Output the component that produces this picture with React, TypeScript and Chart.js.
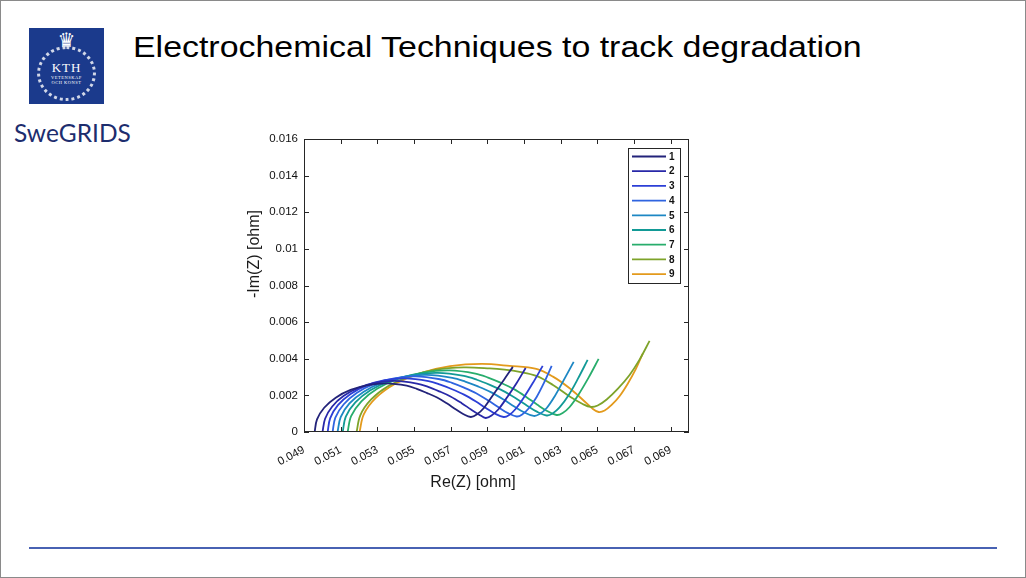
import React, { useEffect, useRef } from "react";
import { Chart, registerables } from "chart.js";

Chart.register(...registerables);

// Nyquist curves, Re(Z) / -Im(Z) in ohm, one pair per measurement
const seriesLabels = ["1", "2", "3", "4", "5", "6", "7", "8", "9"];
const seriesColors = [
  "#23237a",
  "#2828a8",
  "#2c3fd6",
  "#2f64e0",
  "#1d87c4",
  "#129a96",
  "#28ad6c",
  "#7ea32a",
  "#e39a1c"
];

const re1 = [0.04958, 0.04971, 0.0501, 0.05073, 0.05154, 0.05249, 0.05351, 0.0546, 0.05515, 0.05569, 0.05626, 0.05681, 0.05727, 0.05768, 0.0581, 0.05842, 0.05881, 0.05935, 0.0599, 0.06039];
const im1 = [0, 0.000689, 0.001323, 0.001876, 0.002297, 0.00256, 0.002653, 0.002527, 0.002358, 0.002139, 0.001882, 0.001553, 0.001242, 0.000985, 0.00082, 0.000957, 0.001313, 0.002079, 0.002844, 0.003556];

const re2 = [0.05001, 0.05015, 0.05054, 0.05117, 0.05198, 0.05293, 0.05394, 0.05516, 0.05577, 0.05638, 0.05699, 0.0576, 0.05811, 0.05856, 0.05891, 0.05923, 0.05962, 0.06011, 0.0606, 0.06109];
const im2 = [0, 0.000722, 0.001394, 0.001974, 0.002417, 0.002695, 0.002788, 0.002646, 0.002466, 0.00222, 0.001941, 0.001575, 0.00123, 0.000946, 0.000765, 0.000902, 0.001258, 0.001941, 0.002679, 0.003499];

const re3 = [0.05029, 0.05043, 0.05085, 0.05152, 0.05239, 0.0534, 0.05449, 0.05579, 0.05643, 0.05708, 0.05773, 0.05838, 0.05892, 0.0594, 0.05989, 0.06019, 0.06054, 0.06101, 0.0615, 0.06202];
const im3 = [0, 0.00076, 0.001465, 0.002067, 0.002531, 0.002827, 0.002925, 0.002777, 0.002586, 0.002335, 0.002039, 0.001662, 0.001307, 0.001011, 0.00082, 0.000929, 0.001258, 0.001914, 0.002706, 0.003609];

const re4 = [0.05056, 0.05071, 0.05117, 0.05189, 0.05282, 0.05392, 0.05509, 0.05641, 0.05707, 0.05773, 0.05839, 0.05905, 0.05961, 0.0601, 0.0606, 0.0609, 0.06125, 0.06169, 0.0621, 0.06251];
const im4 = [0, 0.000787, 0.001514, 0.002143, 0.00263, 0.002931, 0.003034, 0.002881, 0.002685, 0.002422, 0.002116, 0.001722, 0.00135, 0.001044, 0.000847, 0.000957, 0.001285, 0.001914, 0.002706, 0.003609];

const re5 = [0.05083, 0.051, 0.05148, 0.05226, 0.05326, 0.05443, 0.05569, 0.05709, 0.05779, 0.05849, 0.05919, 0.05989, 0.06047, 0.061, 0.06153, 0.06185, 0.06224, 0.06267, 0.06316, 0.06371];
const im5 = [0, 0.000809, 0.001558, 0.002203, 0.002701, 0.003013, 0.003116, 0.002958, 0.002756, 0.002488, 0.002176, 0.001771, 0.001389, 0.001077, 0.000875, 0.000984, 0.001312, 0.001941, 0.002816, 0.003827];

const re6 = [0.05111, 0.05128, 0.0518, 0.05262, 0.0537, 0.05495, 0.05629, 0.05772, 0.05843, 0.05914, 0.05986, 0.06057, 0.06117, 0.0617, 0.06224, 0.06256, 0.06294, 0.06344, 0.06395, 0.06447];
const im6 = [0, 0.000837, 0.001613, 0.00228, 0.002794, 0.003116, 0.003226, 0.003062, 0.002854, 0.002575, 0.002247, 0.001832, 0.001438, 0.00111, 0.000902, 0.001011, 0.00134, 0.002023, 0.002925, 0.003937];

const re7 = [0.05138, 0.05157, 0.05213, 0.05301, 0.05416, 0.0555, 0.05694, 0.05835, 0.05904, 0.05975, 0.06045, 0.06114, 0.06173, 0.06226, 0.06278, 0.06311, 0.06349, 0.06398, 0.06453, 0.06507];
const im7 = [0, 0.000869, 0.001679, 0.002378, 0.002914, 0.003248, 0.003363, 0.003193, 0.002974, 0.002679, 0.00234, 0.001903, 0.001487, 0.001148, 0.000929, 0.001039, 0.001367, 0.00205, 0.00298, 0.003991];

const re8 = [0.05187, 0.05207, 0.05265, 0.05358, 0.05479, 0.0562, 0.05771, 0.05913, 0.05994, 0.06076, 0.06167, 0.06258, 0.06349, 0.0642, 0.06464, 0.06502, 0.06551, 0.06611, 0.06676, 0.06731, 0.06785];
const im8 = [0, 0.000913, 0.001763, 0.002493, 0.003056, 0.003406, 0.003527, 0.003472, 0.003401, 0.00328, 0.003062, 0.00257, 0.001941, 0.001531, 0.001367, 0.001449, 0.001777, 0.002351, 0.003116, 0.003964, 0.004975];

const re9 = [0.05203, 0.05226, 0.05292, 0.05398, 0.05536, 0.05697, 0.05869, 0.06022, 0.06167, 0.06258, 0.06349, 0.06422, 0.06476, 0.06507, 0.0654, 0.06578, 0.06622, 0.06665, 0.06709, 0.06747];
const im9 = [0, 0.000962, 0.001859, 0.00263, 0.00322, 0.003592, 0.003718, 0.003609, 0.003445, 0.003023, 0.002389, 0.00175, 0.001258, 0.001093, 0.001176, 0.001476, 0.001968, 0.002624, 0.003417, 0.004265];

const reSeries = [re1, re2, re3, re4, re5, re6, re7, re8, re9];
const imSeries = [im1, im2, im3, im4, im5, im6, im7, im8, im9];

const xTickValues = [0.049, 0.051, 0.053, 0.055, 0.057, 0.059, 0.061, 0.063, 0.065, 0.067, 0.069];
const yTickValues = [0, 0.002, 0.004, 0.006, 0.008, 0.01, 0.012, 0.014, 0.016];

const FONT = '"Liberation Sans", Arial, Helvetica, sans-serif';
const AXIS_COLOR = "#262626";

// matlab style box with inward ticks on all four sides
const boxFrame = {
  id: "boxFrame",
  afterDraw(chart: any) {
    const { ctx, chartArea: a, scales } = chart;
    ctx.save();
    ctx.strokeStyle = AXIS_COLOR;
    ctx.lineWidth = 1;
    ctx.strokeRect(a.left + 0.5, a.top + 0.5, a.right - a.left - 1, a.bottom - a.top - 1);
    ctx.beginPath();
    xTickValues.forEach((v) => {
      const px = Math.round(scales.x.getPixelForValue(v)) + 0.5;
      ctx.moveTo(px, a.bottom);
      ctx.lineTo(px, a.bottom - 5);
      ctx.moveTo(px, a.top);
      ctx.lineTo(px, a.top + 5);
    });
    yTickValues.forEach((v) => {
      const py = Math.round(scales.y.getPixelForValue(v)) + 0.5;
      ctx.moveTo(a.left, py);
      ctx.lineTo(a.left + 5, py);
      ctx.moveTo(a.right, py);
      ctx.lineTo(a.right - 5, py);
    });
    ctx.stroke();
    ctx.restore();
  }
};

// legend box in the top right corner of the axes
const insideLegend = {
  id: "insideLegend",
  afterDraw(chart: any) {
    const { ctx, chartArea: a } = chart;
    const left = a.right - 61;
    const top = a.top + 9;
    ctx.save();
    ctx.fillStyle = "#ffffff";
    ctx.fillRect(left, top, 52, 135);
    ctx.strokeStyle = AXIS_COLOR;
    ctx.lineWidth = 1;
    ctx.strokeRect(left + 0.5, top + 0.5, 52, 135);
    ctx.font = `bold 10px ${FONT}`;
    ctx.textBaseline = "middle";
    chart.data.datasets.forEach((ds: any, i: number) => {
      const y = top + 8.5 + i * 14.7;
      ctx.strokeStyle = ds.borderColor;
      ctx.lineWidth = 1.8;
      ctx.beginPath();
      ctx.moveTo(left + 4, y);
      ctx.lineTo(left + 38, y);
      ctx.stroke();
      ctx.fillStyle = "#111";
      ctx.fillText(ds.label, left + 41, y + 0.5);
    });
    ctx.restore();
  }
};

const hiddenGrid = { display: true, drawOnChartArea: false, drawTicks: false };

const NyquistChart = () => {
  const canvasRef = useRef<HTMLCanvasElement>(null);

  useEffect(() => {
    const chart = new Chart(canvasRef.current as HTMLCanvasElement, {
      type: "scatter",
      data: {
        datasets: seriesLabels.map((label, i) => ({
          label,
          data: reSeries[i].map((x, j) => ({ x, y: imSeries[i][j] })),
          showLine: true,
          borderColor: seriesColors[i],
          backgroundColor: seriesColors[i],
          borderWidth: 1.8,
          pointRadius: 0,
          tension: 0.35
        }))
      },
      options: {
        animation: false,
        responsive: false,
        events: [],
        layout: { padding: { top: 19, right: 21, left: 0, bottom: 0 } },
        plugins: {
          legend: { display: false },
          tooltip: { enabled: false }
        },
        scales: {
          x: {
            type: "linear",
            min: 0.049,
            max: 0.07,
            afterBuildTicks: (scale: any) => {
              scale.ticks = xTickValues.map((value) => ({ value }));
            },
            afterFit: (scale: any) => {
              scale.height = 78;
            },
            grid: hiddenGrid,
            border: { display: false },
            ticks: {
              autoSkip: false,
              minRotation: 28,
              maxRotation: 28,
              padding: 11,
              color: "#111",
              font: { family: FONT, size: 11.5 },
              callback: (v: any) => Number(v).toFixed(3)
            }
          },
          y: {
            type: "linear",
            min: 0,
            max: 0.016,
            afterBuildTicks: (scale: any) => {
              scale.ticks = yTickValues.map((value) => ({ value }));
            },
            afterFit: (scale: any) => {
              scale.width = 74;
            },
            grid: hiddenGrid,
            border: { display: false },
            ticks: {
              padding: 6,
              color: "#111",
              font: { family: FONT, size: 11.5 },
              callback: (v: any) => String(parseFloat(Number(v).toFixed(3)))
            }
          }
        }
      },
      plugins: [boxFrame, insideLegend]
    });

    return () => {
      chart.destroy();
    };
  }, []);

  return (
    <canvas
      ref={canvasRef}
      width={480}
      height={390}
      style={{ position: "absolute", left: 230, top: 120, width: 480, height: 390 }}
    />
  );
};

const KthLogo = () => (
  <div style={{ position: "absolute", left: 29, top: 28, width: 75, height: 76, background: "#1b3a8c", overflow: "hidden" }}>
    <div
      style={{
        position: "absolute",
        left: 0,
        top: 1,
        width: 75,
        textAlign: "center",
        color: "#fff",
        fontFamily: '"DejaVu Sans", sans-serif',
        fontSize: 20,
        lineHeight: "22px"
      }}
    >
      ♛
    </div>
    <div
      style={{
        position: "absolute",
        left: 8,
        top: 18,
        width: 59,
        height: 55,
        borderRadius: "50%",
        border: "3px dotted rgba(255,255,255,0.8)",
        boxSizing: "border-box"
      }}
    />
    <div
      style={{
        position: "absolute",
        left: 0,
        top: 33,
        width: 75,
        textAlign: "center",
        color: "#fff",
        fontFamily: '"Liberation Serif", "DejaVu Serif", serif',
        fontSize: 13,
        lineHeight: "13px",
        letterSpacing: 1
      }}
    >
      KTH
    </div>
    <div
      style={{
        position: "absolute",
        left: 0,
        top: 47,
        width: 75,
        textAlign: "center",
        color: "#fff",
        fontFamily: '"Liberation Serif", serif',
        fontSize: 4.5,
        lineHeight: "5px",
        letterSpacing: 0.5
      }}
    >
      VETENSKAP
      <br />
      OCH KONST
    </div>
  </div>
);

export default function App() {
  return (
    <div
      style={{
        position: "absolute",
        left: 0,
        top: 0,
        width: 1026,
        height: 578,
        background: "#ffffff",
        overflow: "hidden",
        fontFamily: FONT
      }}
    >
      <div
        style={{
          position: "absolute",
          left: 0,
          top: 0,
          width: 1026,
          height: 578,
          border: "1px solid #8a8a8a",
          boxSizing: "border-box"
        }}
      />
      <KthLogo />
      <div
        style={{
          position: "absolute",
          left: 14,
          top: 120,
          fontFamily: 'Lato, "Open Sans", sans-serif',
          fontSize: 24.5,
          lineHeight: "26px",
          color: "#1d2d6e",
          whiteSpace: "nowrap"
        }}
      >
        SweGRIDS
      </div>
      <div
        style={{
          position: "absolute",
          left: 133,
          top: 32,
          fontSize: 30,
          lineHeight: "30px",
          color: "#000",
          whiteSpace: "nowrap",
          transform: "scaleX(1.13)",
          transformOrigin: "left center"
        }}
      >
        Electrochemical Techniques to track degradation
      </div>
      <NyquistChart />
      <div
        style={{
          position: "absolute",
          left: 254 - 60,
          top: 254 - 10,
          width: 120,
          height: 20,
          lineHeight: "20px",
          textAlign: "center",
          fontSize: 16,
          color: "#1a1a1a",
          transform: "rotate(-90deg)",
          whiteSpace: "nowrap"
        }}
      >
        -Im(Z) [ohm]
      </div>
      <div
        style={{
          position: "absolute",
          left: 473 - 60,
          top: 482 - 10,
          width: 120,
          height: 20,
          lineHeight: "20px",
          textAlign: "center",
          fontSize: 16,
          color: "#1a1a1a",
          whiteSpace: "nowrap"
        }}
      >
        Re(Z) [ohm]
      </div>
      <div style={{ position: "absolute", left: 29, top: 547, width: 968, height: 2, background: "#4862b3" }} />
    </div>
  );
}
